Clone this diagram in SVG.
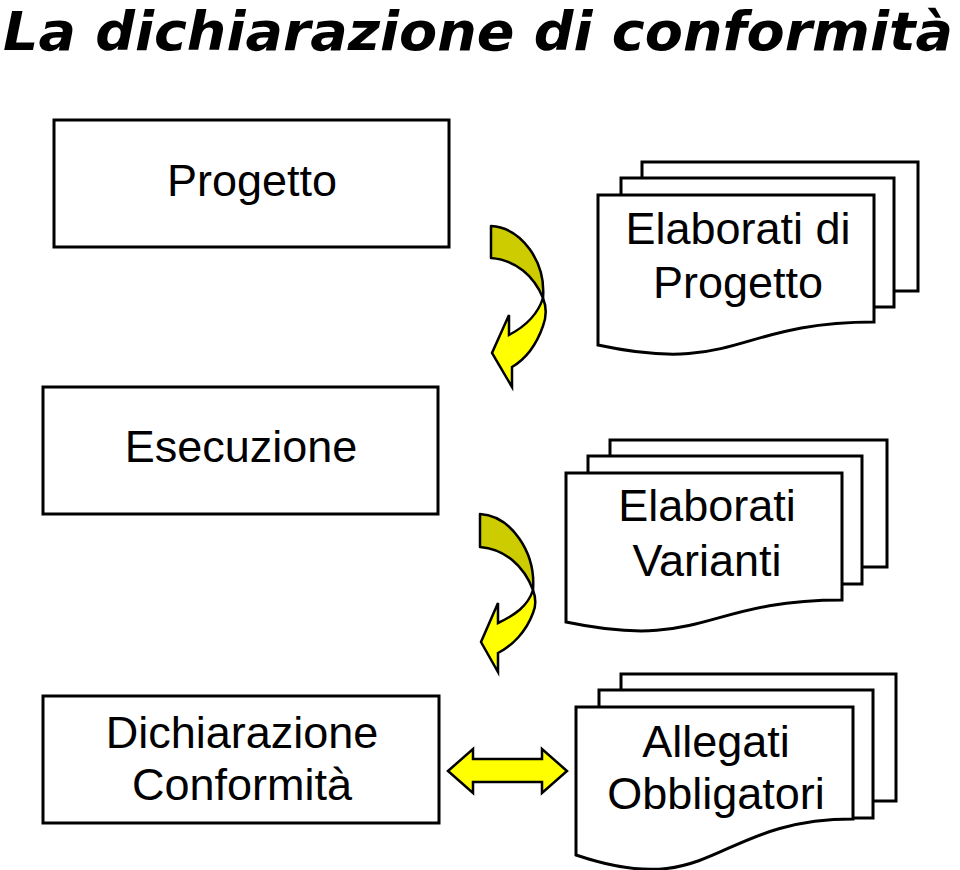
<svg xmlns="http://www.w3.org/2000/svg" width="960" height="870" viewBox="0 0 960 870">
<style>
.box{fill:#fff;stroke:#000;stroke-width:3}
.sheet{fill:#fff;stroke:#000;stroke-width:3;stroke-linejoin:miter}
.lbl{font-family:"Liberation Sans",Arial,sans-serif;font-size:45px;fill:#000;text-anchor:middle}
.title{font-family:"DejaVu Sans",Verdana,sans-serif;font-size:53px;font-weight:bold;font-style:italic;fill:#000}
.dark{fill:#CCCC00;stroke:#000;stroke-width:2.5;stroke-linejoin:round}
.light{fill:#FFFF00;stroke:#000;stroke-width:2.5;stroke-linejoin:miter}
</style>
<rect width="960" height="870" fill="#fff"/>
<text class="title" x="3" y="50" textLength="950" lengthAdjust="spacingAndGlyphs">La dichiarazione di conformità</text>

<g id="progetto">
<rect class="box" x="54" y="120" width="395" height="127"/>
<text class="lbl" x="252" y="196">Progetto</text>
</g>
<g id="esecuzione">
<rect class="box" x="43" y="387" width="395" height="127"/>
<text class="lbl" x="241" y="462">Esecuzione</text>
</g>
<g id="dichiarazione">
<rect class="box" x="43" y="696" width="396" height="127"/>
<text class="lbl" x="242" y="748">Dichiarazione</text>
<text class="lbl" x="242" y="800">Conformità</text>
</g>

<g id="elaborati-progetto">
<rect class="sheet" x="642" y="162" width="276" height="129"/>
<rect class="sheet" x="621" y="178" width="273" height="129"/>
<path class="sheet" d="M598,195 L874,195 L874,322 C736,322 736,375 598,345 Z"/>
<text class="lbl" x="738" y="244">Elaborati di</text>
<text class="lbl" x="738" y="298">Progetto</text>
</g>
<g id="elaborati-varianti">
<rect class="sheet" x="610" y="440" width="277" height="127"/>
<rect class="sheet" x="588" y="456" width="274" height="128"/>
<path class="sheet" d="M566,473 L842,473 L842,600 C704,600 704,651 566,622 Z"/>
<text class="lbl" x="707" y="521">Elaborati</text>
<text class="lbl" x="707" y="576">Varianti</text>
</g>
<g id="allegati">
<rect class="sheet" x="621" y="674" width="275" height="127"/>
<rect class="sheet" x="599" y="690" width="274" height="128"/>
<path class="sheet" d="M576,707 L853,707 L853,819 C714,819 714,902 576,855 Z"/>
<text class="lbl" x="716" y="757">Allegati</text>
<text class="lbl" x="716" y="809">Obbligatori</text>
</g>

<g id="connectors">
<g id="arrow1">
<path class="dark" d="M491,226 C522,228 546,262 543,298 C534,276 516,260 491,258 Z"/>
<path class="light" d="M543,298 C547,308 546,318 543,326 C536,346 524,360 512,367 L512,387 L492,353 L509,315 L509,335 C526,326 538,314 543,298 Z"/>
</g>
<g id="arrow2">
<path class="dark" d="M480,514 C511,516 536,552 533,590 C524,566 505,549 480,547 Z"/>
<path class="light" d="M533,590 C536,598 536,606 533,613 C526,632 512,646 498,653 L498,672 L481,642 L498,603 L498,623 C515,615 528,606 533,590 Z"/>
</g>
<path id="arrow3" class="light" d="M448,771 L473,749 L473,759 L542,759 L542,749 L567,771 L542,793 L542,782 L473,782 L473,793 Z"/>
</g>
</svg>
